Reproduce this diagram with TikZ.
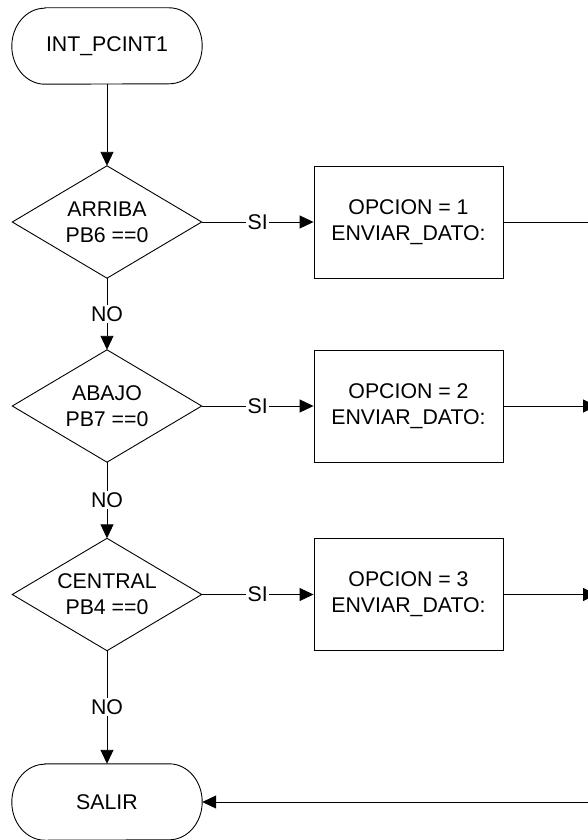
\documentclass[tikz,border=0pt]{standalone}
\usepackage{fontspec}
\setmainfont{Liberation Sans}
\usetikzlibrary{arrows.meta}

% stadium-shaped outline around a (borderless) terminal node
\newcommand\stadiumoutline[1]{%
  \draw[line] ([xshift=33pt]#1.north west) -- ([xshift=-33pt]#1.north east)
    arc[start angle=90, end angle=-90, x radius=33pt, y radius=38pt]
    -- ([xshift=33pt]#1.south west)
    arc[start angle=270, end angle=90, x radius=33pt, y radius=38pt] -- cycle;}
% diamond outline through the side midpoints of a decision node
\newcommand\diamondoutline[1]{%
  \draw[line] (#1.north) -- (#1.east) -- (#1.south) -- (#1.west) -- cycle;}

\begin{document}
\begin{tikzpicture}[x=1pt, y=-1pt,
  every node/.style={font=\fontsize{21.3}{25.8}\selectfont, align=center, inner sep=0pt},
  line/.style={draw=black, line width=0.9pt},
  flow/.style={line, -{Triangle[length=14pt, width=13pt]}},
  termin/.style={minimum width=190pt, minimum height=76pt},
  decision/.style={minimum width=189pt, minimum height=112pt},
  process/.style={draw=black, line width=0.9pt, minimum width=189pt, minimum height=112pt},
  tag/.style={fill=white, inner sep=1.5pt}
]
\fill[white] (0,0) rectangle (588,840);
\useasboundingbox (0,0) rectangle (588,840);

% nodes
\node[termin]   (inicio) at (107,46)      {INT\_PCINT1};
\node[decision] (d1)     at (107,222)     {ARRIBA\\PB6 ==0};
\node[process]  (p1)     at (408.5,222)   {OPCION = 1\\ENVIAR\_DATO:};
\node[decision] (d2)     at (107,406)     {ABAJO\\PB7 ==0};
\node[process]  (p2)     at (408.5,406)   {OPCION = 2\\ENVIAR\_DATO:};
\node[decision] (d3)     at (107,594.5)   {CENTRAL\\PB4 ==0};
\node[process]  (p3)     at (408.5,594.5) {OPCION = 3\\ENVIAR\_DATO:};
\node[termin]   (salir)  at (107,802)     {SALIR};

\stadiumoutline{inicio}
\stadiumoutline{salir}
\diamondoutline{d1}
\diamondoutline{d2}
\diamondoutline{d3}

% loose ends running off the right side
\coordinate (r1) at (588,222);
\coordinate (r2) at (597,406);
\coordinate (r3) at (597,594.5);
\coordinate (r4) at (600,802);

% connectors
\draw[flow] (inicio.south) -- (d1.north);
\draw[flow] (d1.east) -- node[tag] {SI} (p1.west);
\draw[flow] (d2.east) -- node[tag] {SI} (p2.west);
\draw[flow] (d3.east) -- node[tag] {SI} (p3.west);
\draw[flow] (d1.south) -- node[tag] {NO} (d2.north);
\draw[flow] (d2.south) -- node[tag] {NO} (d3.north);
\draw[flow] (d3.south) -- node[tag] {NO} (salir.north);
\draw[line] (p1.east) -- (r1);
\draw[flow] (p2.east) -- (r2);
\draw[flow] (p3.east) -- (r3);
\draw[flow] (r4) -- (salir.east);
\end{tikzpicture}
\end{document}
